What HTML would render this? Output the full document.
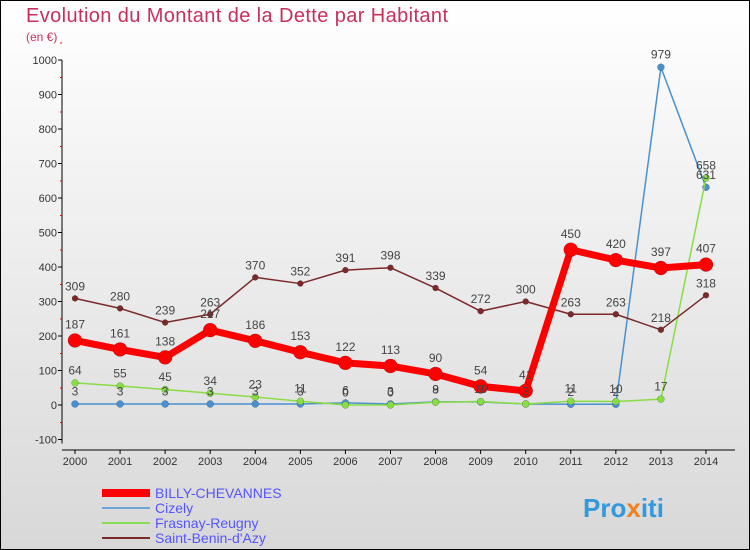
<!DOCTYPE html>
<html><head><meta charset="utf-8"><style>
body{margin:0}
#c{width:750px;height:550px;position:relative;overflow:hidden;font-family:"Liberation Sans",sans-serif}
</style></head><body>
<div id="c">
<svg id="s" width="750" height="550" xmlns="http://www.w3.org/2000/svg">
<defs><linearGradient id="bg" x1="0" y1="0" x2="0" y2="1"><stop offset="0" stop-color="#ffffff"/><stop offset="1" stop-color="#d8d8d8"/></linearGradient></defs>
<rect x="0.5" y="0.5" width="749" height="549" fill="url(#bg)" stroke="#000"/>
<text x="26" y="22" font-size="20" fill="#c8305a" textLength="422">Evolution du Montant de la Dette par Habitant</text>
<text x="26" y="41" font-size="12" fill="#c8305a">(en €)</text>
<g id="axes"></g><g id="series"></g><g id="labels"></g>
<g font-size="14">
<line x1="102" y1="493" x2="150" y2="493" stroke="#ff0000" stroke-width="8"/><text x="155" y="498" fill="#5555ff">BILLY-CHEVANNES</text>
<line x1="102" y1="508" x2="150" y2="508" stroke="#6fa8d8" stroke-width="2"/><text x="155" y="513" fill="#5555ff">Cizely</text>
<line x1="102" y1="523" x2="150" y2="523" stroke="#88dd55" stroke-width="2"/><text x="155" y="528" fill="#5555ff">Frasnay-Reugny</text>
<line x1="102" y1="538" x2="150" y2="538" stroke="#7a2a2a" stroke-width="2"/><text x="155" y="543" fill="#5555ff">Saint-Benin-d'Azy</text>
</g>
<text x="583" y="517" font-size="26" font-weight="bold" fill="#3399dd">Pro<tspan fill="#f08020">x</tspan>iti</text>
</svg>
</div>
<script>
const years=[2000,2001,2002,2003,2004,2005,2006,2007,2008,2009,2010,2011,2012,2013,2014];
const billy=[187,161,138,217,186,153,122,113,90,54,41,450,420,397,407];
const cizely=[3,3,3,3,3,3,6,3,9,9,3,2,2,979,631];
const frasnay=[64,55,45,34,23,11,0,0,8,10,3,11,10,17,658];
const saint=[309,280,239,263,370,352,391,398,339,272,300,263,263,218,318];
const yTicks=[-100,0,100,200,300,400,500,600,700,800,900,1000];
const NS="http://www.w3.org/2000/svg";
const xS=i=>75+i*45.07;
const yS=v=>405-v*0.345;
function mk(t,a,p){const e=document.createElementNS(NS,t);for(const k in a)e.setAttribute(k,a[k]);p.appendChild(e);return e;}
const ax=document.getElementById('axes'),sg=document.getElementById('series'),lg=document.getElementById('labels');
let yl=mk('line',{x1:62,y1:yS(1000),x2:62,y2:yS(-100)+4,stroke:'#000'},ax);


let xl=mk('line',{x1:62,y1:450,x2:735,y2:450,stroke:'#000'},ax);


yTicks.forEach(v=>{
 mk('line',{x1:58,y1:yS(v),x2:62,y2:yS(v),stroke:'#000'},ax);
 mk('line',{x1:60,y1:yS(v)-17,x2:62,y2:yS(v)-17,stroke:'#e00'},ax);
 const t=mk('text',{x:57,y:yS(v)+4,'font-size':11,'text-anchor':'end',fill:'#333'},ax);t.textContent=v;
 
 
});
years.forEach((y,i)=>{
 mk('line',{x1:xS(i),y1:450,x2:xS(i),y2:454,stroke:'#000'},ax);
 const t=mk('text',{x:xS(i),y:465,'font-size':11,'text-anchor':'middle',fill:'#333'},ax);t.textContent=y;
 
 
});
function series(d,col,w,r,name){
 const pl=mk('polyline',{points:d.map((v,i)=>xS(i)+','+yS(v)).join(' '),fill:'none',stroke:col,'stroke-width':w,'stroke-linejoin':'round'},sg);
 
 
 d.forEach((v,i)=>{
  const c=mk('circle',{cx:xS(i),cy:yS(v),r:r,fill:col,stroke:'rgba(0,0,0,0.3)','stroke-width':0.5},sg);
  
  
  const t=mk('text',{x:xS(i),y:yS(v)-(r+5),'font-size':12,'text-anchor':'middle',fill:'#444'},lg);t.textContent=v;
  
  
 });
}
series(cizely,'#4a90d0',1.5,3.5,'cizely');
series(frasnay,'#88dd44',1.5,3.5,'frasnay');
series(saint,'#7a2a2a',1.5,3,'saint-benin');
series(billy,'#ff0000',7,7,'billy');
</script>
</body></html>
